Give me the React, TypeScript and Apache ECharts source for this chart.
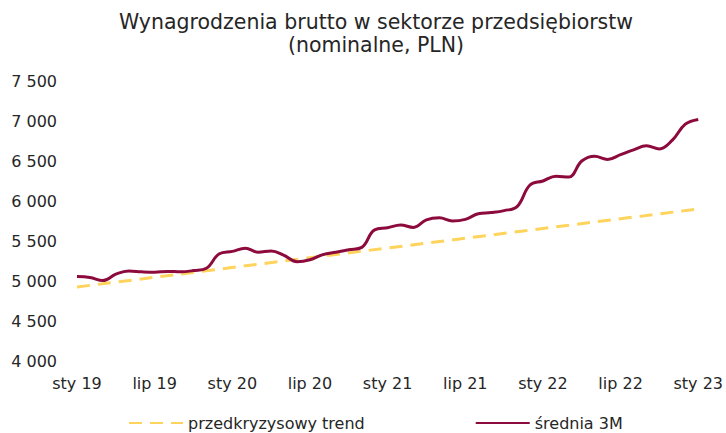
import React, { useEffect, useRef } from "react";
import * as echarts from "echarts";

const monthNames = ["sty", "lut", "mar", "kwi", "maj", "cze", "lip", "sie", "wrz", "paź", "lis", "gru"];
const years = ["19", "20", "21", "22", "23"];

const categories: string[] = [];
years.forEach((y) => monthNames.forEach((m) => categories.push(m + " " + y)));
categories.length = 49;

const avg3M = [
  5055, 5045, 5005, 5085, 5125, 5115, 5110, 5120, 5115, 5130, 5160, 5340,
  5370, 5410, 5360, 5375, 5320, 5240, 5265, 5330, 5360, 5390, 5420, 5640,
  5665, 5700, 5670, 5765, 5790, 5750, 5770, 5840, 5855, 5880, 5930, 6200,
  6250, 6310, 6300, 6500, 6560, 6520, 6580, 6640, 6690, 6650, 6760, 6960,
  7020,
];

const trendStart = 4925;
const trendEnd = 5900;
const trend: (number | null)[] = categories.map((_, i) =>
  i === 0 ? trendStart : i === categories.length - 1 ? trendEnd : null
);

const titleLines = ["Wynagrodzenia brutto w sektorze przedsiębiorstw", "(nominalne, PLN)"];
const seriesNames = ["przedkryzysowy trend", "średnia 3M"];

const FONT = "DejaVu Sans";
const TEXT = "#262626";

export default function App() {
  const ref = useRef<HTMLDivElement>(null);
  useEffect(() => {
    document.body.style.margin = "0";
    if (!ref.current) return;
    const chart = echarts.init(ref.current, null, { renderer: "svg" });
    chart.setOption({
      animation: false,
      backgroundColor: "#fff",
      textStyle: { fontFamily: FONT, color: TEXT },
      graphic: titleLines.map((t, i) => ({
        type: "text",
        x: 376,
        y: 22 + i * 23,
        style: {
          text: t,
          fontFamily: FONT,
          fontSize: 20.5,
          fill: TEXT,
          textAlign: "center",
          textVerticalAlign: "middle",
        },
      })),
      grid: { left: 77, right: 26, top: 81, bottom: 72, containLabel: false },
      legend: {
        left: 123,
        top: 410,
        itemWidth: 54,
        itemHeight: 10,
        itemGap: 110,
        itemStyle: { opacity: 0 },
        textStyle: { fontFamily: FONT, fontSize: 16, color: TEXT },
        data: seriesNames,
      },
      xAxis: {
        type: "category",
        data: categories,
        boundaryGap: false,
        axisLine: { show: false },
        axisTick: { show: false },
        axisLabel: { interval: 5, fontFamily: FONT, fontSize: 16, color: TEXT, margin: 14 },
        splitLine: { show: false },
      },
      yAxis: {
        type: "value",
        min: 4000,
        max: 7500,
        interval: 500,
        axisLine: { show: false },
        axisTick: { show: false },
        splitLine: { show: false },
        axisLabel: {
          fontFamily: FONT,
          fontSize: 16,
          color: TEXT,
          margin: 20,
          formatter: (v: number) => String(v).replace(/\B(?=(\d{3})+(?!\d))/g, " "),
        },
      },
      series: [
        {
          name: seriesNames[0],
          type: "line",
          data: trend,
          connectNulls: true,
          symbol: "none",
          lineStyle: { color: "#FFD45C", width: 3, type: [13, 8] },
          itemStyle: { color: "#FFD45C" },
          z: 1,
        },
        {
          name: seriesNames[1],
          type: "line",
          data: avg3M,
          smooth: 0.4,
          symbol: "none",
          lineStyle: { color: "#8C0A3C", width: 3 },
          itemStyle: { color: "#8C0A3C" },
          z: 2,
        },
      ],
    });
    return () => chart.dispose();
  }, []);
  return <div ref={ref} style={{ width: 726, height: 433 }} />;
}
